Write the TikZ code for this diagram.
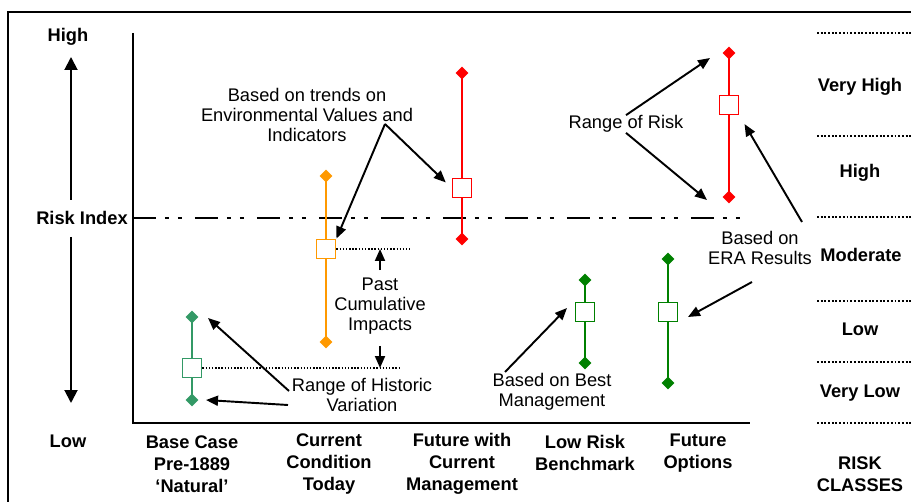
\documentclass[tikz,border=0pt]{standalone}
\usepackage{fontspec}
\setmainfont{Liberation Sans}
\usetikzlibrary{shapes.geometric, arrows.meta, positioning}
\definecolor{baseGreen}{RGB}{51,153,102}
\definecolor{todayOrange}{RGB}{255,153,0}
\definecolor{futureRed}{RGB}{255,0,0}
\definecolor{bestGreen}{RGB}{0,128,0}

\begin{document}
\begin{tikzpicture}[
    x=0.02cm, y=-0.02cm,
    note/.style={align=center, inner sep=0pt, font=\fontsize{10.4}{11.6}\selectfont},
    heading/.style={align=center, inner sep=0pt, font=\fontsize{10.4}{12.4}\selectfont\bfseries},
    tip/.style={diamond, fill, inner sep=0pt, minimum size=0.26cm},
    mid/.style={rectangle, draw, fill=white, line width=1.1pt, minimum size=0.38cm, inner sep=0pt},
    bar/.style={line width=1.1pt},
    pointer/.style={-{Triangle[length=0.24cm, width=0.2cm]}, line width=1.1pt},
    bigpointer/.style={-{Triangle[length=0.26cm, width=0.26cm]}, line width=1.1pt},
    axis/.style={line width=0.9pt},
    indexline/.style={line width=1.7pt, dash pattern=on 0.46cm off 0.18cm on 0.08cm off 0.18cm on 0.08cm off 0.26cm},
    guide/.style={densely dotted, line width=0.8pt},
    classline/.style={densely dotted, line width=1.1pt}
]
\useasboundingbox (0,0) rectangle (911,502);

\coordinate (frameBL) at (8,502);
\coordinate (frameTR) at (911,12);
\draw[line width=1.1pt] (frameBL) |- (frameTR);

\coordinate (axisTop) at (133,33);
\coordinate (origin) at (133,423);
\coordinate (axisEnd) at (750,423);
\draw[axis] (axisTop) -- (origin) -- (axisEnd);

\node[heading] (highLbl) at (68,37) {High};
\node[heading] (riskIdx) at (82,218) {Risk Index};
\node[heading] (lowLbl) at (68,441) {Low};
\coordinate (upStart) at (71,200);
\coordinate (upEnd) at (71,57);
\coordinate (downStart) at (71,237);
\coordinate (downEnd) at (71,403);
\draw[bigpointer] (upStart) -- (upEnd);
\draw[bigpointer] (downStart) -- (downEnd);

\coordinate (riskLineEnd) at (747,218);
\draw[indexline] (riskIdx.east -| origin) -- (riskLineEnd);

\node[tip, baseGreen] (baseTop) at (192,317) {};
\node[tip, baseGreen] (baseBot) at (192,400) {};
\draw[bar, baseGreen] (baseTop.center) -- (baseBot.center);
\node[mid, draw=baseGreen] (baseMid) at (192,368) {};

\node[tip, todayOrange] (todayTop) at (326,176) {};
\node[tip, todayOrange] (todayBot) at (326,342) {};
\draw[bar, todayOrange] (todayTop.center) -- (todayBot.center);
\node[mid, draw=todayOrange] (todayMid) at (326,249) {};

\node[tip, futureRed] (futureTop) at (462,73) {};
\node[tip, futureRed] (futureBot) at (462,239) {};
\draw[bar, futureRed] (futureTop.center) -- (futureBot.center);
\node[mid, draw=futureRed] (futureMid) at (462,188) {};

\node[tip, bestGreen] (benchTop) at (585,280) {};
\node[tip, bestGreen] (benchBot) at (585,363) {};
\draw[bar, bestGreen] (benchTop.center) -- (benchBot.center);
\node[mid, draw=bestGreen] (benchMid) at (585,312) {};

\node[tip, bestGreen] (optionsTop) at (668,259) {};
\node[tip, bestGreen] (optionsBot) at (668,383) {};
\draw[bar, bestGreen] (optionsTop.center) -- (optionsBot.center);
\node[mid, draw=bestGreen] (optionsMid) at (668,312) {};

\node[tip, futureRed] (riskTop) at (729,53) {};
\node[tip, futureRed] (riskBot) at (729,197) {};
\draw[bar, futureRed] (riskTop.center) -- (riskBot.center);
\node[mid, draw=futureRed] (riskMid) at (729,105) {};

\coordinate (todayGuide) at (410,249);
\coordinate (baseGuide) at (400,368);
\draw[guide] (todayMid.east) -- (todayGuide);
\draw[guide] (baseMid.east) -- (baseGuide);

\node[note] (trendsNote) at (307,115) {Based on trends on\\Environmental Values and\\Indicators};
\coordinate (trendsFork) at (385,124);
\draw[pointer] (trendsFork) -- (todayMid.north east);
\draw[pointer, shorten >=0.16cm] (trendsFork) -- (futureMid.west);

\node[note] (pastNote) at (380,306) {Past\\Cumulative\\Impacts};
\draw[pointer, shorten <=0.14cm] (pastNote.north) -- (pastNote.north |- todayGuide);
\draw[pointer, shorten <=0.22cm] (pastNote.south) -- (pastNote.south |- baseGuide);

\node[note] (historicNote) at (362,395) {Range of Historic\\Variation};
\coordinate (historicStartA) at (289,391);
\coordinate (historicStartB) at (288,405);
\coordinate (historicTipA) at (208,318);
\coordinate (historicTipB) at (206,400);
\draw[pointer] (historicStartA) -- (historicTipA);
\draw[pointer] (historicStartB) -- (historicTipB);

\node[note] (rangeNote) at (626,124) {Range of Risk};
\coordinate (rangeTipA) at (710,58);
\coordinate (rangeTipB) at (707,200);
\draw[pointer] (rangeNote.north) -- (rangeTipA);
\draw[pointer] (rangeNote.south) -- (rangeTipB);

\node[note] (eraNote) at (760,248) {Based on\\ERA Results};
\coordinate (eraStartA) at (802,222);
\coordinate (eraStartB) at (752,282);
\coordinate (eraTipB) at (688,317);
\draw[pointer, shorten >=0.2cm] (eraStartA) -- (riskMid.south east);
\draw[pointer] (eraStartB) -- (eraTipB);

\node[note] (bestNote) at (552,392) {Based on Best\\Management};
\coordinate (bestStart) at (505,372);
\coordinate (bestTip) at (567,308);
\draw[pointer] (bestStart) -- (bestTip);

\node[heading] (baseCase) at (192,464) {Base Case\\Pre-1889\\‘Natural’};
\node[heading] (today) at (329,464) {Current\\Condition\\Today};
\node[heading] (future) at (462,464) {Future with\\Current\\Management};
\node[heading] (bench) at (585,453) {Low Risk\\Benchmark};
\node[heading] (options) at (698,453) {Future\\Options};
\node[heading] (classes) at (860,474) {RISK\\CLASSES};

\foreach \y in {33,136,217,301,362,423}
    \draw[classline] (817,\y) -- (911,\y);
\node[heading] (veryHigh) at (860,87) {Very High};
\node[heading] (high) at (860,173) {High};
\node[heading] (moderate) at (861,255) {Moderate};
\node[heading] (low) at (860,329) {Low};
\node[heading] (veryLow) at (860,393) {Very Low};

\end{tikzpicture}
\end{document}
